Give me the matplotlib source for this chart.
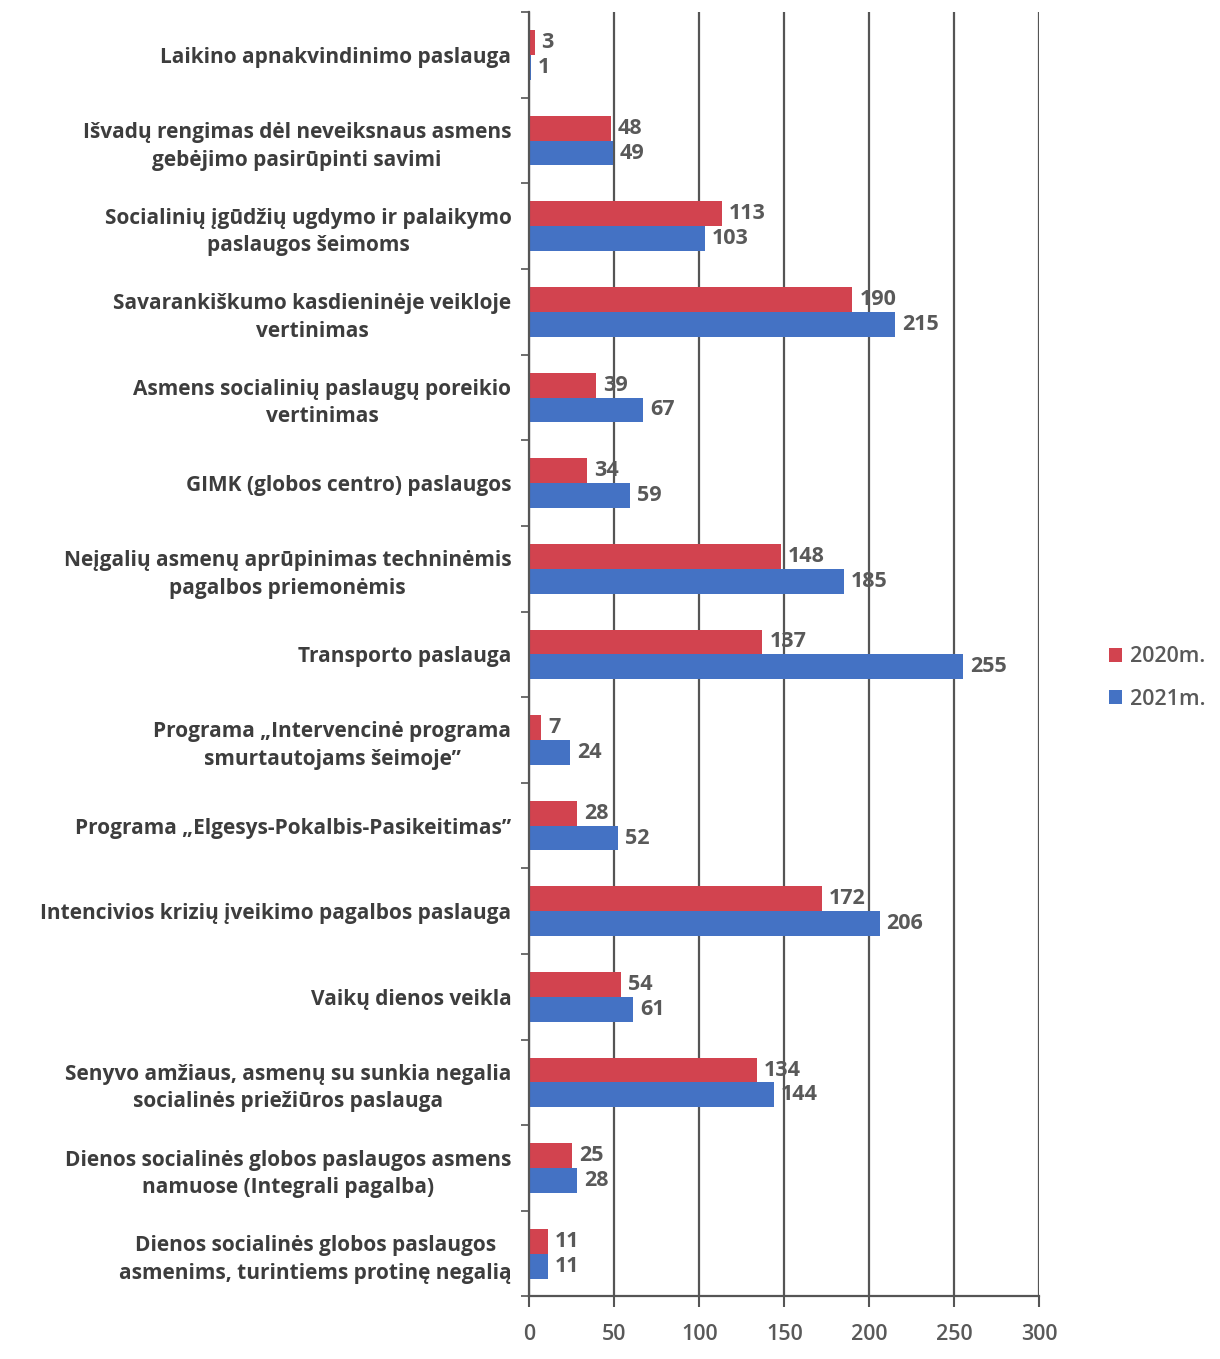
import numpy as np
import matplotlib.pyplot as plt
from matplotlib import rcParams

categories = [
    "Laikino apnakvindinimo paslauga",
    "Išvadų rengimas dėl neveiksnaus asmens\ngebėjimo pasirūpinti savimi",
    "Socialinių įgūdžių ugdymo ir palaikymo\npaslaugos šeimoms",
    "Savarankiškumo kasdieninėje veikloje\nvertinimas",
    "Asmens socialinių paslaugų poreikio\nvertinimas",
    "GIMK (globos centro) paslaugos",
    "Neįgalių asmenų aprūpinimas techninėmis\npagalbos priemonėmis",
    "Transporto paslauga",
    "Programa „Intervencinė programa\nsmurtautojams šeimoje”",
    "Programa „Elgesys-Pokalbis-Pasikeitimas”",
    "Intencivios krizių įveikimo pagalbos paslauga",
    "Vaikų dienos veikla",
    "Senyvo amžiaus, asmenų su sunkia negalia\nsocialinės priežiūros paslauga",
    "Dienos socialinės globos paslaugos asmens\nnamuose (Integrali pagalba)",
    "Dienos socialinės globos paslaugos\nasmenims, turintiems protinę negalią",
]
values_2020 = [3, 48, 113, 190, 39, 34, 148, 137, 7, 28, 172, 54, 134, 25, 11]
values_2021 = [1, 49, 103, 215, 67, 59, 185, 255, 24, 52, 206, 61, 144, 28, 11]
series_names = ["2020m.", "2021m."]
x_ticks = [0, 50, 100, 150, 200, 250, 300]

red = "#D2434F"
blue = "#4472C4"
grey = "#595959"
dark = "#3d3d3d"

rcParams["font.family"] = ["Open Sans", "DejaVu Sans"]

fig = plt.figure(figsize=(12.2, 13.59), dpi=100)
ax = fig.add_axes([0.434, 0.046, 0.418, 0.945])

y = np.arange(len(categories))
h = 0.29
b1 = ax.barh(y - h / 2, values_2020, height=h, color=red, label=series_names[0])
b2 = ax.barh(y + h / 2, values_2021, height=h, color=blue, label=series_names[1])

# data labels
for bars, vals in ((b1, values_2020), (b2, values_2021)):
    for bar, v in zip(bars, vals):
        ax.annotate(str(v), (bar.get_width(), bar.get_y() + bar.get_height() / 2),
                    xytext=(5, 0), textcoords="offset points",
                    ha="left", va="center", fontsize=15.5, fontweight="bold", color=grey)

ax.set_xlim(0, 300)
ax.set_ylim(len(categories) - 0.5, -0.5)
ax.set_xticks(x_ticks)
ax.set_xticklabels([str(t) for t in x_ticks], fontsize=15.5, color=grey, fontweight="semibold")
ax.tick_params(axis="x", length=8, width=1.5, color="#555555", pad=12)

ax.set_yticks(y)
ax.set_yticklabels(categories, fontsize=15, fontweight="bold", color=dark,
                   linespacing=1.4, multialignment="center")
ax.tick_params(axis="y", length=0, pad=13)
ax.set_yticks(np.arange(len(categories) + 1) - 0.5, minor=True)
ax.tick_params(axis="y", which="minor", length=6, width=1.2, color="#555555")

ax.grid(axis="x", color="#555555", linewidth=1.6)
ax.set_axisbelow(True)
for s in ("top", "right"):
    ax.spines[s].set_visible(False)
for s in ("left", "bottom"):
    ax.spines[s].set_color("#555555")
    ax.spines[s].set_linewidth(1.6)

fig.legend(handles=[b1, b2], loc="center left", bbox_to_anchor=(0.893, 0.501),
           frameon=False, fontsize=15.5, handlelength=0.6, handleheight=0.6,
           handletextpad=0.4, labelspacing=1.0, labelcolor=grey,
           prop={"size": 15.5, "weight": "semibold"})

fig.savefig("out.png", dpi=100)
